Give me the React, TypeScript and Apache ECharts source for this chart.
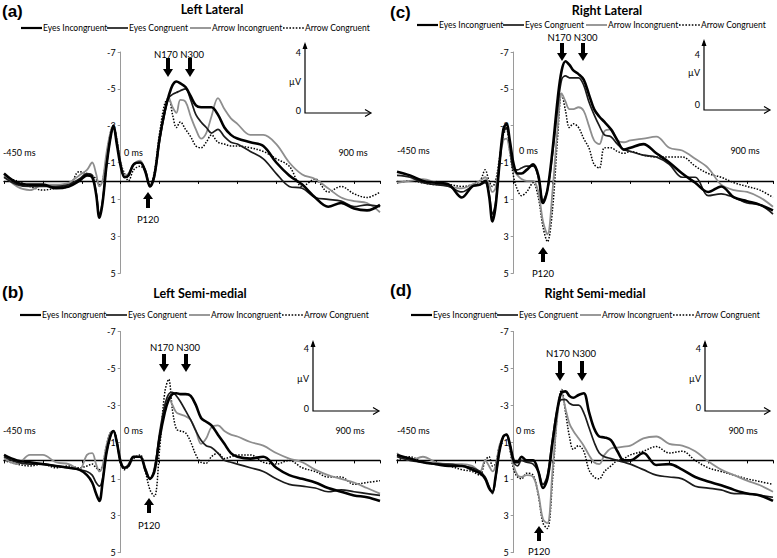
import React, { useEffect, useRef } from "react";
import * as echarts from "echarts";

// time points (ms)
const times = [-450, -400, -350, -300, -250, -200, -160, -130, -110, -95, -82, -70, -55, -40, -28, -15,
  0, 15, 30, 50, 75, 95, 113, 130, 150, 170, 185, 200, 215, 230, 250, 270, 290, 310, 330, 350, 375, 400, 425, 450,
  500, 550, 600, 650, 700, 750, 800, 850, 900, 950, 1000];

const seriesNames = ["Eyes Incongruent", "Eyes Congruent", "Arrow Incongruent", "Arrow Congruent"];

// (a) Left Lateral
const aEI = [-0.4, 0.1, 0.2, 0.2, 0.4, 0.3, 0.0, -0.3, -0.2, 0.7, 2.0, 1.2, -0.8, -2.3, -3.0, -2.0,
  -0.8, -0.2, -0.3, -0.9, -1.0, -0.5, 0.3, -0.3, -2.3, -3.8, -4.6, -5.2, -5.4, -5.3, -5.1, -4.6, -4.1, -4.0, -4.0, -4.0, -3.6, -2.9, -2.5, -2.3,
  -2.1, -1.9, -1.0, -0.3, 0.2, 0.9, 1.4, 1.2, 1.5, 1.6, 1.3];
const aEC = [-0.2, 0.2, 0.3, 0.3, 0.3, 0.2, -0.1, -0.4, -0.3, 0.6, 1.8, 1.1, -0.8, -2.3, -3.0, -2.1,
  -0.9, -0.2, -0.3, -0.9, -1.0, -0.6, 0.3, -0.3, -2.2, -3.7, -4.5, -4.7, -4.8, -4.9, -5.0, -4.4, -3.6, -3.2, -2.9, -2.6, -2.8, -2.4, -2.1, -2.0,
  -1.6, -1.2, -0.4, 0.3, 0.4, 0.9, 1.0, 1.1, 1.4, 1.3, 1.4];
const aAI = [-0.3, 0.3, 0.5, 0.2, 0.2, 0.1, -0.3, -0.6, -1.0, -0.4, 0.3, 0.0, -1.5, -2.6, -3.0, -2.2,
  -1.0, -0.3, -0.4, -0.9, -1.1, -0.5, 0.3, -0.2, -2.2, -3.8, -4.5, -4.0, -3.7, -4.4, -4.3, -3.5, -2.8, -2.3, -2.6, -3.5, -4.5, -3.9, -3.4, -3.1,
  -2.5, -2.5, -2.0, -1.0, -0.35, -0.1, 0.4, 0.9, 1.1, 1.2, 1.7];
const aAC = [-0.2, 0.0, 0.3, 0.5, 0.4, 0.3, -0.5, -0.4, -0.3, -0.1, 0.2, 0.0, -1.3, -2.6, -3.0, -2.3,
  -1.0, -0.4, 0.0, -0.6, -0.8, -0.5, 0.3, -0.5, -2.6, -4.2, -4.5, -3.6, -2.9, -3.2, -2.8, -2.4, -1.9, -1.8, -2.1, -2.5, -2.1, -2.0, -1.9, -1.9,
  -1.8, -1.6, -1.2, -0.8, 0.3, -0.1, 0.6, 0.3, 0.7, 0.9, 0.6];

// (b) Left Semi-medial
const bEI = [-0.3, 0.0, 0.1, 0.2, 0.3, 0.4, 0.5, 0.8, 1.2, 1.8, 2.2, 1.2, -0.4, -1.3, -1.6, -1.0,
  0.1, 0.4, 0.3, -0.2, -0.2, 0.5, 1.0, 0.6, -1.2, -2.6, -3.3, -3.6, -3.65, -3.6, -3.6, -3.5, -3.0, -2.3, -2.1, -1.9, -1.4, -0.9, -0.4, -0.2,
  -0.1, -0.2, 0.4, 0.8, 1.0, 1.2, 1.5, 1.7, 1.9, 2.0, 2.2];
const bEC = [-0.2, 0.1, 0.2, 0.2, 0.3, 0.4, 0.5, 0.6, 0.8, 1.2, 1.4, 1.0, -0.4, -1.3, -1.6, -1.0,
  0.1, 0.4, 0.3, -0.2, -0.2, 0.5, 1.0, 0.5, -1.5, -3.0, -3.6, -3.7, -3.5, -3.2, -2.7, -2.2, -1.6, -1.1, -0.8, -0.7, -0.4, 0.0, 0.1, 0.2,
  0.4, 0.6, 1.0, 1.3, 1.4, 1.5, 1.7, 1.6, 1.7, 1.8, 1.9];
const bAI = [-0.1, 0.2, -0.3, -0.3, 0.1, 0.2, 0.5, -0.3, -0.4, 0.2, 0.6, 0.3, -0.8, -1.5, -1.6, -1.0,
  0.0, 0.4, 0.2, -0.2, -0.2, 0.4, 1.0, 0.4, -1.3, -2.8, -3.4, -3.0, -2.6, -2.5, -2.4, -2.2, -1.6, -0.9, -1.2, -1.8, -1.9, -1.6, -1.4, -1.3,
  -1.0, -0.8, -0.4, -0.1, 0.1, 0.5, 0.8, 1.0, 1.2, 1.5, 1.8];
const bAC = [0.0, 0.2, 0.3, 0.2, 0.4, 0.3, 0.4, 0.3, 0.2, 0.4, 0.5, 0.3, -0.8, -1.5, -1.6, -1.0,
  0.2, 0.5, 0.3, -0.1, -0.3, 0.6, 1.6, 1.95, -0.6, -3.7, -4.4, -2.7, -1.7, -1.6, -1.5, -1.0, -0.3, 0.1, 0.15, -0.2, -0.4, -0.1, -0.2, -0.3,
  -0.3, 0.1, 0.2, 0.0, 0.4, 0.6, 0.9, 0.9, 1.3, 1.2, 1.1];

// (c) Right Lateral
const cEI = [-0.5, -0.3, 0.0, 0.1, 0.2, 0.9, 0.3, 0.2, 0.0, 0.8, 2.2, 1.4, -0.9, -2.8, -3.1, -2.2,
  -0.9, -0.4, -0.4, -0.6, -0.9, -0.3, 1.2, 0.5, -1.7, -4.5, -6.0, -6.5, -6.3, -6.0, -5.8, -5.5, -4.7, -3.9, -3.5, -3.2, -2.8, -2.2, -1.7, -1.8,
  -2.0, -1.5, -1.0, -0.4, 0.1, 0.6, 0.3, 0.9, 1.1, 1.3, 1.6];
const cEC = [-0.3, -0.2, 0.1, 0.2, 0.3, 0.6, 0.3, 0.2, 0.1, 0.7, 1.8, 1.2, -0.9, -2.6, -2.9, -2.0,
  -0.6, -0.6, -0.7, -0.8, -0.8, -0.2, 1.05, 0.5, -1.5, -4.0, -5.5, -5.7, -5.6, -5.6, -5.6, -5.2, -4.3, -3.6, -3.0, -2.5, -2.4, -2.0, -1.7, -1.6,
  -1.4, -1.3, -0.9, -0.2, -0.2, 0.8, 0.7, 0.9, 1.2, 1.3, 1.8];
const cAI = [0.1, 0.0, -0.1, 0.1, 0.3, 0.4, 0.2, 0.0, -0.2, 0.2, 0.6, 0.4, -1.0, -2.2, -2.3, -1.6,
  -0.6, -0.3, -0.1, 0.0, 0.0, 0.6, 2.2, 2.9, 0.5, -3.0, -4.75, -4.3, -3.9, -3.9, -4.0, -3.8, -3.0, -2.2, -2.0, -2.7, -2.8, -2.2, -2.1, -2.2,
  -2.3, -2.4, -1.8, -1.65, -1.2, -0.7, 0.2, 0.5, 0.6, 0.9, 1.4];
const cAC = [0.1, 0.0, 0.1, 0.2, 0.2, 0.3, 0.2, 0.0, -0.6, 0.0, 0.3, 0.0, -1.2, -2.5, -2.8, -1.6,
  -0.2, 0.5, 0.8, 0.6, 0.1, 0.9, 2.5, 3.3, 1.5, -2.5, -4.75, -3.8, -2.9, -3.1, -2.9, -2.3, -1.8, -0.9, -0.7, -1.8, -1.8, -1.6, -1.5, -1.6,
  -1.4, -1.3, -1.3, -1.3, -0.8, -0.4, -0.2, 0.1, 0.3, 0.5, 0.9];

// (d) Right Semi-medial
const dEI = [-0.3, -0.1, 0.1, 0.2, 0.3, 0.3, 0.5, 0.7, 1.0, 1.5, 1.7, 0.9, -0.5, -1.3, -1.4, -0.9,
  0.0, 0.1, -0.2, 0.0, 0.0, 0.6, 1.5, 1.0, -1.0, -2.9, -3.7, -3.75, -3.5, -3.4, -3.55, -3.65, -2.65, -1.75, -1.3, -1.25, -1.1, -0.5, 0.0, 0.0,
  -0.4, 0.25, 0.2, 0.5, 0.9, 1.15, 1.35, 1.6, 1.8, 1.9, 2.2];
const dEC = [-0.2, 0.0, 0.1, 0.2, 0.2, 0.3, 0.4, 0.6, 0.9, 1.4, 1.8, 1.0, -0.5, -1.3, -1.4, -0.9,
  0.1, 0.3, 0.0, 0.1, 0.2, 0.6, 1.3, 0.8, -1.2, -2.9, -3.3, -3.3, -3.1, -3.0, -3.0, -2.6, -1.8, -1.0, -0.4, -0.2, -0.1, 0.0, 0.1, 0.2,
  0.5, 0.8, 0.9, 1.0, 1.4, 1.5, 1.6, 1.8, 1.8, 1.9, 2.0];
const dAI = [-0.4, 0.0, -0.2, 0.1, 0.2, 0.2, 0.3, 0.6, 0.0, 0.3, 0.6, 0.3, -0.8, -1.3, -1.4, -0.7,
  0.3, 0.8, 0.9, 0.8, 0.9, 1.8, 3.2, 3.4, 0.5, -2.6, -3.65, -2.8, -2.0, -1.6, -1.2, -0.8, -0.3, 0.1, 0.2, -0.3, -0.65, -0.7, -0.75, -0.8,
  -1.2, -1.3, -0.9, -0.8, -0.5, 0.05, 0.5, 0.8, 1.1, 1.35, 1.7];
const dAC = [0.0, -0.2, 0.1, 0.2, 0.3, 0.5, 0.6, 0.8, 0.0, -0.2, 0.3, 0.2, -0.8, -1.3, -1.4, -0.6,
  0.5, 0.9, 1.0, 0.7, 0.8, 1.9, 3.4, 3.7, 1.0, -2.8, -3.85, -2.6, -1.3, -0.6, -0.8, -0.5, 0.5, 0.9, 1.0, 0.6, 0.3, 0.0, -0.1, -0.3,
  -0.5, -0.75, -0.4, -0.5, 0.0, 0.4, 0.6, 0.8, 1.0, 1.15, 1.3];

const panelValues = [
  [aEI, aEC, aAI, aAC],
  [cEI, cEC, cAI, cAC],
  [bEI, bEC, bAI, bAC],
  [dEI, dEC, dAI, dAC],
];

const X_MIN = -450;
const X_MAX = 1000;

// layout (positions only)
const panels = [
  { tag: "(a)", title: "Left Lateral", gx: 4, gy: 52, tagX: 2, tagY: 11, titleX: 212, titleY: 9, legL: 21, legY: 28,
    nTextY: 54, n1: 168, n2: 190, nY0: 58, nY1: 77, p: 148, pTip: 192, pBot: 208, pTextY: 219,
    sx: 305, sTop: 42, sBot: 113, sRight: 371, s4: 52, sMu: 81, s0: 110, msY: 152, msL: 3, ms0: 124, ms900: 353 },
  { tag: "(c)", title: "Right Lateral", gx: 397, gy: 52, tagX: 390, tagY: 12, titleX: 607, titleY: 10, legL: 417, legY: 25,
    nTextY: 37, n1: 562, n2: 583, nY0: 43, nY1: 61, p: 543, pTip: 247, pBot: 262, pTextY: 273,
    sx: 704, sTop: 39, sBot: 110, sRight: 770, s4: 54, sMu: 72, s0: 104, msY: 150, msL: 397, ms0: 519, ms900: 745 },
  { tag: "(b)", title: "Left Semi-medial", gx: 4, gy: 331.5, tagX: 2, tagY: 292, titleX: 200, titleY: 293, legL: 20, legY: 315,
    nTextY: 347, n1: 164, n2: 186, nY0: 354, nY1: 372, p: 149, pTip: 498, pBot: 513, pTextY: 525,
    sx: 313, sTop: 340, sBot: 411, sRight: 379, s4: 348, sMu: 378, s0: 408, msY: 430, msL: 3, ms0: 124, ms900: 350 },
  { tag: "(d)", title: "Right Semi-medial", gx: 397, gy: 331.5, tagX: 390, tagY: 290, titleX: 595, titleY: 293, legL: 411, legY: 315,
    nTextY: 353, n1: 560, n2: 582, nY0: 361, nY1: 381, p: 539, pTip: 526, pBot: 541, pTextY: 551,
    sx: 705, sTop: 340, sBot: 411, sRight: 770, s4: 348, sMu: 378, s0: 407, msY: 430, msL: 397, ms0: 516, ms900: 743 },
];

// legend item offsets from the legend's left edge
const legendOffsets = [0, 86, 169, 262];

const GW = 376;
const GH = 221;
const FONT = "Lato, 'Open Sans', sans-serif";

const lineStyles = [
  { color: "#000000", width: 2.6, type: "solid" },
  { color: "#1c1c1c", width: 1.7, type: "solid" },
  { color: "#8e8e8e", width: 1.8, type: "solid" },
  { color: "#000000", width: 1.5, type: "dotted" },
];

function txt(x: number, y: number, text: string, size: number, opts: any = {}) {
  return {
    type: "text", x, y, silent: true, z: 20,
    style: {
      text, fontSize: size, fontFamily: opts.family || FONT, fontWeight: opts.weight || "normal",
      fill: "#000", align: opts.align || "center", verticalAlign: "middle",
    },
  };
}

function downArrow(x: number, y0: number, y1: number) {
  const h = 8;
  return {
    type: "polygon", silent: true, z: 20,
    shape: { points: [[x - 2, y0], [x + 2, y0], [x + 2, y1 - h], [x + 5, y1 - h], [x, y1], [x - 5, y1 - h], [x - 2, y1 - h]] },
    style: { fill: "#000" },
  };
}

function upArrow(x: number, tip: number, bot: number) {
  const h = 7;
  return {
    type: "polygon", silent: true, z: 20,
    shape: { points: [[x - 2, bot], [x + 2, bot], [x + 2, tip + h], [x + 5, tip + h], [x, tip], [x - 5, tip + h], [x - 2, tip + h]] },
    style: { fill: "#000" },
  };
}

function buildGraphic() {
  const els: any[] = [];
  panels.forEach((p) => {
    els.push(txt(p.tagX, p.tagY, p.tag, 17, { align: "left", weight: "bold", family: "'Liberation Sans', Arial, sans-serif" }));
    els.push(txt(p.titleX, p.titleY, p.title, 12.5, { weight: "bold" }));
    // legend
    seriesNames.forEach((name, i) => {
      const x0 = p.legL + legendOffsets[i];
      const ls = lineStyles[i];
      els.push({
        type: "line", silent: true, z: 20,
        shape: { x1: x0, y1: p.legY, x2: x0 + 21, y2: p.legY },
        style: { stroke: ls.color, lineWidth: Math.min(ls.width, 2.2), lineDash: ls.type === "dotted" ? [1.6, 1.6] : null },
      });
      els.push(txt(x0 + 22, p.legY, name, 8.5, { align: "left" }));
    });
    els.push(txt((p.n1 + p.n2) / 2, p.nTextY, "N170 N300", 9.5));
    els.push(downArrow(p.n1, p.nY0, p.nY1));
    els.push(downArrow(p.n2, p.nY0, p.nY1));
    els.push(upArrow(p.p, p.pTip, p.pBot));
    els.push(txt(p.p, p.pTextY, "P120", 9.5));
    els.push(txt(p.msL, p.msY, "-450 ms", 9, { align: "left" }));
    els.push(txt(p.ms0, p.msY, "0 ms", 9, { align: "left" }));
    els.push(txt(p.ms900, p.msY, "900 ms", 9));
    // scale inset
    els.push({
      type: "polyline", silent: true, z: 20,
      shape: { points: [[p.sx, p.sTop + 2], [p.sx, p.sBot], [p.sRight - 1, p.sBot]] },
      style: { stroke: "#000", lineWidth: 1.2, fill: null },
    });
    els.push({
      type: "polygon", silent: true, z: 20,
      shape: { points: [[p.sx, p.sTop], [p.sx - 2.5, p.sTop + 7], [p.sx + 2.5, p.sTop + 7]] },
      style: { fill: "#000" },
    });
    els.push({
      type: "polyline", silent: true, z: 20,
      shape: { points: [[p.sRight - 6, p.sBot - 3.5], [p.sRight, p.sBot], [p.sRight - 6, p.sBot + 3.5]] },
      style: { stroke: "#000", lineWidth: 1.2, fill: null },
    });
    els.push(txt(p.sx - 4, p.s4, "4", 9, { align: "right" }));
    els.push(txt(p.sx - 4, p.sMu, "µV", 9, { align: "right" }));
    els.push(txt(p.sx - 4, p.s0, "0", 9, { align: "right" }));
  });
  return els;
}

export default function App() {
  const ref = useRef<HTMLDivElement>(null);
  useEffect(() => {
    if (!ref.current) return;
    const chart = echarts.init(ref.current, undefined, { renderer: "svg" });
    const grids = panels.map((p) => ({ left: p.gx, top: p.gy, width: GW, height: GH }));
    const xAxes = panels.map((_, i) => ({
      type: "value", gridIndex: i, min: X_MIN, max: X_MAX, interval: 150,
      axisLine: { onZero: true, lineStyle: { color: "#000", width: 1.4 } },
      axisTick: { show: true, length: 3, lineStyle: { color: "#000", width: 1 } },
      axisLabel: { show: false }, splitLine: { show: false },
    }));
    // place the y axis at t = 0 ms by shifting it inside the grid
    const zeroOffset = ((0 - X_MIN) / (X_MAX - X_MIN)) * GW;
    const yAxes = panels.map((_, i) => ({
      type: "value", gridIndex: i, min: -7, max: 5, interval: 2, inverse: true,
      position: "left", offset: -zeroOffset,
      axisLine: { onZero: false, lineStyle: { color: "#9a9a9a", width: 1 } },
      axisTick: { show: true, length: 3, lineStyle: { color: "#9a9a9a" } },
      axisLabel: { fontSize: 9, color: "#000", fontFamily: FONT, margin: 5 },
      splitLine: { show: false },
    }));
    const series: any[] = [];
    const order = [2, 3, 1, 0];
    panelValues.forEach((vals, pi) => {
      order.forEach((si) => {
        series.push({
          type: "line", name: seriesNames[si], xAxisIndex: pi, yAxisIndex: pi,
          data: times.map((t, k) => [t, vals[si][k]]),
          showSymbol: false, symbol: "none", smooth: 0.35,
          lineStyle: lineStyles[si], itemStyle: { color: lineStyles[si].color },
          z: 3 + (3 - si), silent: true,
        });
      });
    });
    chart.setOption({
      animation: false,
      backgroundColor: "#fff",
      grid: grids, xAxis: xAxes, yAxis: yAxes, series,
      graphic: buildGraphic(),
    });
    return () => chart.dispose();
  }, []);
  return <div ref={ref} style={{ position: "absolute", left: 0, top: 0, width: 777, height: 558 }} />;
}
